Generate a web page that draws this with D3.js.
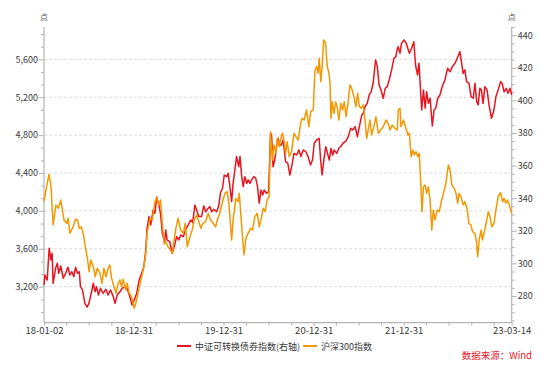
<!DOCTYPE html>
<html>
<head>
<meta charset="utf-8">
<script src="https://cdn.jsdelivr.net/npm/d3@7"></script>
<style>
	body { margin: 0; background: #fff; }
	svg text { font-family: "Noto Sans CJK SC", "Noto Sans", sans-serif; }
</style>
</head>
<body>
<div class="container"></div>
<script>
const WIDTH = 550;
const HEIGHT = 365;
const LEFT = 44;
const RIGHT = 511.7;
const TOP = 26.7;
const BOTTOM = 322.7;

const RED = "#e8141f";
const ORANGE = "#f39800";

// series names
var seriesNames = ["中证可转换债券指数(右轴)", "沪深300指数"];

// x axis labels
var xTickDates = ["2018-01-02", "2018-12-31", "2019-12-31", "2020-12-31", "2021-12-31", "2023-03-14"];
var leftTicks = [3200, 3600, 4000, 4400, 4800, 5200, 5600];
var rightTicks = [280, 300, 320, 340, 360, 380, 400, 420, 440];

// 沪深300指数 (left axis)
var csiDates = ["2018-01-02","2018-01-10","2018-01-22","2018-01-30","2018-02-08","2018-02-19","2018-03-01","2018-03-11","2018-03-24","2018-04-04",
	"2018-04-10","2018-04-17","2018-04-30","2018-05-10","2018-05-18","2018-05-25","2018-06-02","2018-06-10","2018-06-20","2018-06-28",
	"2018-07-04","2018-07-11","2018-07-21","2018-07-29","2018-08-06","2018-08-17","2018-08-25","2018-09-02","2018-09-10","2018-09-19",
	"2018-09-26","2018-10-03","2018-10-13","2018-10-21","2018-10-30","2018-11-06","2018-11-13","2018-11-19","2018-11-29","2018-12-05",
	"2018-12-14","2018-12-23","2019-01-03","2019-01-13","2019-01-23","2019-02-02","2019-02-11","2019-02-19","2019-02-24","2019-03-08",
	"2019-03-17","2019-03-28","2019-04-04","2019-04-13","2019-04-20","2019-04-27","2019-05-05","2019-05-11","2019-05-20","2019-05-30",
	"2019-06-06","2019-06-12","2019-06-21","2019-06-30","2019-07-10","2019-07-21","2019-07-29","2019-08-06","2019-08-17","2019-08-26",
	"2019-09-03","2019-09-13","2019-09-22","2019-09-30","2019-10-09","2019-10-19","2019-10-30","2019-11-09","2019-11-19","2019-11-29",
	"2019-12-06","2019-12-16","2019-12-27","2020-01-06","2020-01-15","2020-01-23","2020-02-02","2020-02-08","2020-02-19","2020-02-28",
	"2020-03-04","2020-03-11","2020-03-18","2020-03-23","2020-03-31","2020-04-09","2020-04-19","2020-04-27","2020-05-06","2020-05-16",
	"2020-05-24","2020-06-03","2020-06-09","2020-06-17","2020-06-25","2020-07-03","2020-07-09","2020-07-16","2020-07-23","2020-07-31",
	"2020-08-05","2020-08-13","2020-08-23","2020-08-27","2020-09-01","2020-09-08","2020-09-14","2020-09-23","2020-10-02","2020-10-12",
	"2020-10-20","2020-10-29","2020-11-08","2020-11-14","2020-11-22","2020-12-02","2020-12-11","2020-12-19","2020-12-29","2021-01-05",
	"2021-01-12","2021-01-18","2021-01-22","2021-01-29","2021-02-03","2021-02-09","2021-02-17","2021-02-24","2021-03-03","2021-03-07",
	"2021-03-11","2021-03-16","2021-03-23","2021-03-30","2021-04-05","2021-04-12","2021-04-20","2021-04-27","2021-05-04","2021-05-11",
	"2021-05-19","2021-05-27","2021-06-03","2021-06-12","2021-06-20","2021-06-27","2021-07-04","2021-07-12","2021-07-20","2021-07-27",
	"2021-08-03","2021-08-09","2021-08-16","2021-08-23","2021-09-01","2021-09-09","2021-09-19","2021-09-28","2021-10-09","2021-10-20",
	"2021-10-29","2021-11-05","2021-11-14","2021-11-25","2021-12-05","2021-12-09","2021-12-16","2021-12-20","2021-12-30","2022-01-09",
	"2022-01-17","2022-01-23","2022-01-30","2022-02-06","2022-02-12","2022-02-19","2022-02-26","2022-03-04","2022-03-11","2022-03-15",
	"2022-03-21","2022-03-28","2022-04-03","2022-04-10","2022-04-17","2022-04-24","2022-04-30","2022-05-07","2022-05-16","2022-05-24",
	"2022-06-03","2022-06-12","2022-06-20","2022-06-30","2022-07-07","2022-07-14","2022-07-24","2022-07-31","2022-08-07","2022-08-12",
	"2022-08-20","2022-08-29","2022-09-05","2022-09-15","2022-09-21","2022-09-30","2022-10-06","2022-10-16","2022-10-22","2022-10-27",
	"2022-11-02","2022-11-10","2022-11-15","2022-11-23","2022-12-03","2022-12-09","2022-12-16","2022-12-23","2023-01-01","2023-01-09",
	"2023-01-18","2023-01-28","2023-02-05","2023-02-11","2023-02-18","2023-02-25","2023-03-04","2023-03-14"];
var csiValues = [4097,4220,4386,4273,3851,4062,4027,4115,3904,3869,
	3922,3763,3833,3911,3904,3816,3833,3763,3605,3482,
	3358,3482,3411,3305,3394,3341,3236,3394,3305,3394,
	3429,3289,3200,3130,3236,3271,3200,3278,3165,3236,
	3130,3094,2972,3060,3200,3305,3411,3552,3763,3922,
	3904,4097,4133,4062,4115,3860,3650,3675,3622,3587,
	3552,3658,3816,3922,3798,3763,3869,3622,3728,3798,
	3904,3957,3886,3816,3869,3886,3975,3904,3869,3833,
	3904,3975,4097,4186,4203,4044,3693,3904,4133,4097,
	4186,3939,3693,3535,3711,3763,3816,3798,3939,3975,
	3833,3939,4027,3992,4115,4150,4836,4537,4695,4608,
	4766,4678,4801,4819,4748,4608,4730,4572,4625,4819,
	4783,4748,4924,4977,4959,5065,4889,5047,5065,5487,
	5522,5452,5610,5363,5522,5804,5775,5522,5452,5347,
	4977,5152,5030,5152,5100,4959,5135,5065,5152,4994,
	5135,5329,5294,5205,5100,5241,5100,5083,5118,4959,
	4766,4854,4959,4801,4889,4994,4819,4854,4889,4959,
	4924,4854,4907,4872,4854,5065,5083,4889,4959,4872,
	4801,4819,4572,4643,4590,4625,4572,4608,4255,3992,
	4255,4273,4186,4255,4115,3798,4009,3904,4009,3992,
	4115,4203,4291,4484,4432,4273,4238,4186,4080,4186,
	4150,4062,4097,4009,3869,3851,3780,3763,3675,3517,
	3693,3798,3693,3780,3904,3992,3939,3833,3869,4009,
	4150,4192,4097,4133,4080,4115,4062,3975];

// 中证可转换债券指数 (right axis)
var cbDates = ["2018-01-02","2018-01-06","2018-01-15","2018-01-23","2018-01-30","2018-02-04","2018-02-08","2018-02-18","2018-02-25","2018-03-03",
	"2018-03-11","2018-03-21","2018-03-31","2018-04-09","2018-04-17","2018-04-25","2018-05-03","2018-05-10","2018-05-18","2018-05-25",
	"2018-05-30","2018-06-07","2018-06-17","2018-06-26","2018-07-04","2018-07-14","2018-07-21","2018-07-28","2018-08-03","2018-08-11",
	"2018-08-19","2018-08-30","2018-09-10","2018-09-19","2018-09-29","2018-10-10","2018-10-17","2018-10-26","2018-11-06","2018-11-15",
	"2018-11-26","2018-12-05","2018-12-16","2018-12-25","2019-01-03","2019-01-13","2019-01-23","2019-02-02","2019-02-11","2019-02-19",
	"2019-02-24","2019-03-04","2019-03-11","2019-03-21","2019-03-28","2019-04-04","2019-04-13","2019-04-20","2019-04-27","2019-05-06",
	"2019-05-11","2019-05-16","2019-05-27","2019-06-06","2019-06-14","2019-06-24","2019-07-03","2019-07-11","2019-07-21","2019-07-30",
	"2019-08-10","2019-08-20","2019-08-28","2019-09-06","2019-09-13","2019-09-22","2019-10-03","2019-10-12","2019-10-20","2019-10-30",
	"2019-11-06","2019-11-13","2019-11-22","2019-12-03","2019-12-11","2019-12-19","2019-12-27","2020-01-03","2020-01-13","2020-01-19",
	"2020-01-26","2020-02-02","2020-02-08","2020-02-15","2020-02-22","2020-03-02","2020-03-07","2020-03-14","2020-03-20","2020-03-27",
	"2020-04-03","2020-04-09","2020-04-16","2020-04-23","2020-05-02","2020-05-10","2020-05-17","2020-05-24","2020-05-31","2020-06-07",
	"2020-06-13","2020-06-23","2020-07-01","2020-07-09","2020-07-13","2020-07-19","2020-07-26","2020-08-02","2020-08-08","2020-08-15",
	"2020-08-22","2020-08-29","2020-09-08","2020-09-17","2020-09-25","2020-10-04","2020-10-12","2020-10-23","2020-11-01","2020-11-09",
	"2020-11-18","2020-11-29","2020-12-08","2020-12-18","2020-12-26","2021-01-02","2021-01-12","2021-01-22","2021-01-28","2021-02-03",
	"2021-02-10","2021-02-18","2021-02-25","2021-03-04","2021-03-11","2021-03-18","2021-03-24","2021-04-03","2021-04-12","2021-04-21",
	"2021-04-29","2021-05-09","2021-05-20","2021-05-30","2021-06-07","2021-06-17","2021-06-26","2021-07-04","2021-07-14","2021-07-20",
	"2021-07-27","2021-08-05","2021-08-13","2021-08-21","2021-08-29","2021-09-08","2021-09-15","2021-09-22","2021-09-30","2021-10-09",
	"2021-10-17","2021-10-25","2021-11-02","2021-11-12","2021-11-21","2021-11-29","2021-12-04","2021-12-08","2021-12-16","2021-12-22",
	"2022-01-01","2022-01-10","2022-01-23","2022-02-01","2022-02-10","2022-02-17","2022-02-25","2022-03-03","2022-03-10","2022-03-14",
	"2022-03-21","2022-03-28","2022-04-03","2022-04-10","2022-04-17","2022-04-26","2022-05-03","2022-05-10","2022-05-18","2022-05-27",
	"2022-06-05","2022-06-16","2022-06-27","2022-07-07","2022-07-16","2022-07-27","2022-08-05","2022-08-16","2022-08-23","2022-08-29",
	"2022-09-05","2022-09-12","2022-09-22","2022-09-30","2022-10-09","2022-10-16","2022-10-23","2022-10-29","2022-11-05","2022-11-11",
	"2022-11-18","2022-11-25","2022-12-04","2022-12-12","2022-12-22","2023-01-01","2023-01-09","2023-01-18","2023-01-28","2023-02-03",
	"2023-02-11","2023-02-20","2023-02-27","2023-03-07","2023-03-14"];
var cbValues = [286.7,292.9,289.8,309.3,302.1,306.2,287.8,297.0,300.1,293.9,
	298.4,290.9,293.9,297.6,292.9,294.9,291.8,297.6,293.9,294.9,
	285.7,283.7,275.5,273.1,275.9,282.6,287.8,282.6,285.7,280.6,
	284.7,281.6,284.1,280.6,283.7,279.6,275.5,280.6,282.6,284.7,
	285.7,284.7,279.6,274.5,277.5,281.6,289.8,293.9,298.0,308.2,
	321.5,328.7,323.6,332.8,330.7,340.6,335.8,330.0,318.5,313.0,
	320.5,314.4,313.3,306.2,310.2,316.4,314.4,317.4,316.4,320.5,
	323.6,326.6,325.0,335.8,332.8,328.7,328.7,335.2,331.7,333.8,
	334.8,331.7,333.2,331.7,334.8,343.4,346.1,354.2,353.2,355.3,
	347.1,337.9,349.1,357.3,365.5,359.3,365.5,353.2,347.1,353.2,
	349.1,351.2,349.1,351.2,353.2,352.2,347.1,336.9,345.0,342.0,
	345.0,343.0,344.0,379.8,378.8,359.3,363.4,371.6,376.7,372.6,
	372.6,375.7,362.4,361.4,354.2,360.4,367.5,366.5,369.6,365.5,
	369.6,368.5,365.5,360.4,363.4,373.7,375.7,376.7,363.4,354.2,
	363.4,371.6,367.5,363.4,370.6,366.5,369.6,367.5,370.6,372.0,
	373.7,374.7,377.7,382.9,381.8,383.9,377.7,383.9,391.0,392.1,
	396.1,398.2,403.3,405.3,410.5,424.8,420.7,409.5,406.4,401.3,
	407.4,408.4,412.5,418.7,425.8,426.8,430.9,433.0,429.0,435.0,
	437.1,435.0,428.9,432.0,436.0,421.7,415.6,422.8,404.4,394.1,
	406.4,395.2,405.3,398.2,401.3,384.3,394.1,395.2,401.3,403.3,
	408.4,412.5,419.7,417.6,420.7,422.8,425.8,429.9,422.8,416.6,
	418.7,411.5,410.5,402.3,401.3,410.5,399.2,397.2,407.4,406.4,
	398.2,408.4,406.4,397.2,389.0,394.1,402.3,406.4,411.5,410.5,
	405.3,407.4,404.4,407.4,403.3];

var parseDate = d3.timeParse("%Y-%m-%d");
var formatDate = d3.timeFormat("%y-%m-%d");

var zip = function(dates, values){
	return dates.map(function(d, i){ return {date: parseDate(d), value: values[i]}; });
};

var styleAxis = function(g){
	g.selectAll("path").remove();
	g.selectAll("line").attr("stroke", "#b4b4b4");
	g.selectAll("text").attr("fill", "#3a3a3a").style("font-size", "9px");
};

var load = function(){
	var xDates = xTickDates.map(parseDate);

	var xScale = d3.scaleTime()
		.domain([xDates[0], xDates[xDates.length - 1]])
		.range([LEFT, RIGHT]);

	var yLeft = d3.scaleLinear()
		.domain([2820, 5944])
		.range([BOTTOM, TOP]);

	var yRight = d3.scaleLinear()
		.domain([263.6, 445.2])
		.range([BOTTOM, TOP]);

	// minor ticks: quarters on x, thirds on left, fives on right
	var xMinor = [];
	xDates.slice(0, -1).forEach(function(d, i){
		for (var k = 3; k <= 12; k += 3){
			var m = d3.timeMonth.offset(d, k);
			if (m < d3.timeDay.offset(xDates[i + 1], -10)) xMinor.push(m);
		}
	});
	var leftMinor = d3.range(-2, 21).filter(function(k){ return k % 3 != 0; })
		.map(function(k){ return 3200 + k * 400 / 3; });
	var rightMinor = d3.range(265, 446, 5).filter(function(v){ return v % 20 != 0; });

	var svg = d3.select(".container").append("svg")
		.attr("width", WIDTH)
		.attr("height", HEIGHT);

	// dashed grid on left ticks
	svg.append("g").selectAll("line").data(leftTicks)
		.enter().append("line")
		.attr("x1", LEFT).attr("x2", RIGHT)
		.attr("y1", function(d){ return yLeft(d); })
		.attr("y2", function(d){ return yLeft(d); })
		.attr("stroke", "#dcdcdc")
		.attr("stroke-dasharray", "3,2");

	// axis frames
	var frame = svg.append("g").attr("stroke", "#b4b4b4").attr("stroke-width", 1.2);
	frame.append("line").attr("x1", LEFT).attr("x2", LEFT).attr("y1", TOP).attr("y2", BOTTOM);
	frame.append("line").attr("x1", RIGHT).attr("x2", RIGHT).attr("y1", TOP).attr("y2", BOTTOM);
	frame.append("line").attr("x1", LEFT).attr("x2", RIGHT).attr("y1", BOTTOM).attr("y2", BOTTOM);

	svg.append("g").attr("transform", "translate(" + LEFT + ",0)")
		.call(d3.axisLeft(yLeft).tickValues(leftMinor).tickSize(3).tickFormat(""))
		.call(styleAxis);
	svg.append("g").attr("transform", "translate(" + LEFT + ",0)")
		.call(d3.axisLeft(yLeft).tickValues(leftTicks).tickSize(5).tickPadding(1).tickFormat(d3.format(",")))
		.call(styleAxis);

	svg.append("g").attr("transform", "translate(" + RIGHT + ",0)")
		.call(d3.axisRight(yRight).tickValues(rightMinor).tickSize(3).tickFormat(""))
		.call(styleAxis);
	svg.append("g").attr("transform", "translate(" + RIGHT + ",0)")
		.call(d3.axisRight(yRight).tickValues(rightTicks).tickSize(5).tickPadding(1).tickFormat(d3.format("d")))
		.call(styleAxis);

	svg.append("g").attr("transform", "translate(0," + BOTTOM + ")")
		.call(d3.axisBottom(xScale).tickValues(xMinor).tickSize(3).tickFormat(""))
		.call(styleAxis);
	svg.append("g").attr("transform", "translate(0," + BOTTOM + ")")
		.call(d3.axisBottom(xScale).tickValues(xDates).tickSize(3).tickPadding(2).tickFormat(formatDate))
		.call(styleAxis)
		.selectAll("text").style("font-size", "9.5px");

	// unit labels
	svg.append("text").attr("x", LEFT).attr("y", 20).attr("text-anchor", "middle")
		.style("font-size", "8px").attr("fill", "#555").text("点");
	svg.append("text").attr("x", RIGHT).attr("y", 20).attr("text-anchor", "middle")
		.style("font-size", "8px").attr("fill", "#555").text("点");

	// series
	var cbLine = d3.line()
		.x(function(d){ return xScale(d.date); })
		.y(function(d){ return yRight(d.value); });
	var csiLine = d3.line()
		.x(function(d){ return xScale(d.date); })
		.y(function(d){ return yLeft(d.value); });

	svg.append("path")
		.attr("d", cbLine(zip(cbDates, cbValues)))
		.attr("fill", "none").attr("stroke", RED).attr("stroke-width", 1.5)
		.attr("stroke-linejoin", "round");
	svg.append("path")
		.attr("d", csiLine(zip(csiDates, csiValues)))
		.attr("fill", "none").attr("stroke", ORANGE).attr("stroke-width", 1.5)
		.attr("stroke-linejoin", "round");

	// legend
	var legend = svg.append("g");
	var legendX = [177, 303];
	var legendColors = [RED, ORANGE];
	seriesNames.forEach(function(name, i){
		legend.append("line")
			.attr("x1", legendX[i]).attr("x2", legendX[i] + 14)
			.attr("y1", 346).attr("y2", 346)
			.attr("stroke", legendColors[i]).attr("stroke-width", 2);
		legend.append("text")
			.attr("x", legendX[i] + 18).attr("y", 349.5)
			.style("font-size", "9px").attr("fill", "#3a3a3a")
			.text(name);
	});

	svg.append("text")
		.attr("x", 532).attr("y", 359).attr("text-anchor", "end")
		.style("font-size", "9.5px").attr("fill", "#e8141f")
		.text("数据来源：Wind");
};

window.onload = load;
</script>
</body>
</html>
